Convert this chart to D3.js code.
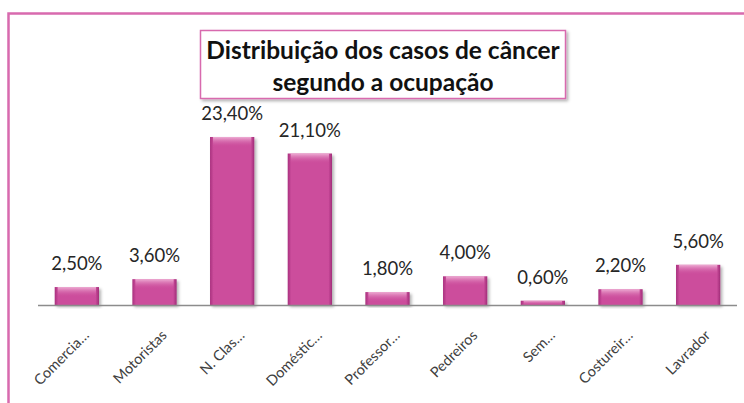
<!DOCTYPE html>
<html><head><meta charset="utf-8">
<script src="https://cdn.jsdelivr.net/npm/d3@7"></script>
<style>body{margin:0;background:#fff}svg{display:block}</style>
</head><body>
<svg id="c" width="744" height="403"></svg>
<script>
const categories = ["Comercia…","Motoristas","N. Clas…","Doméstic…","Professor…","Pedreiros","Sem…","Costureir…","Lavrador"];
const values = [2.5,3.6,23.4,21.1,1.8,4.0,0.6,2.2,5.6];
const valueLabels = ["2,50%","3,60%","23,40%","21,10%","1,80%","4,00%","0,60%","2,20%","5,60%"];
const titleLines = ["Distribuição dos casos de câncer","segundo a ocupação"];

const svg = d3.select("#c");
const defs = svg.append("defs");
const g1 = defs.append("linearGradient").attr("id","hg").attr("x1",0).attr("x2",1).attr("y1",0).attr("y2",0);
g1.append("stop").attr("offset","0").attr("stop-color","#a8307e");
g1.append("stop").attr("offset","0.08").attr("stop-color","#cc4d9c");
g1.append("stop").attr("offset","0.92").attr("stop-color","#cc4d9c");
g1.append("stop").attr("offset","1").attr("stop-color","#a02c78");
const g2 = defs.append("linearGradient").attr("id","tg").attr("x1",0).attr("x2",0).attr("y1",0).attr("y2",1);
g2.append("stop").attr("offset","0").attr("stop-color","#f2b8da").attr("stop-opacity",0.9);
g2.append("stop").attr("offset","1").attr("stop-color","#cc4d9c").attr("stop-opacity",0);
const sh = defs.append("filter").attr("id","sh").attr("x","-10%").attr("y","-10%").attr("width","130%").attr("height","130%");
sh.append("feDropShadow").attr("dx",2).attr("dy",2).attr("stdDeviation",1.5).attr("flood-color","#000").attr("flood-opacity",0.3);

// outer border
svg.append("rect").attr("x",8.5).attr("y",13.5).attr("width",760).attr("height",420)
  .attr("fill","none").attr("stroke","#d86aae").attr("stroke-width",2.5);

const x = d3.scaleBand().domain(categories).range([38,737]).paddingInner(0.43).paddingOuter(0.215);
const y = d3.scaleLinear().domain([0,25]).range([305,125.5]);

const bars = svg.append("g").selectAll("g").data(values).join("g");
bars.append("rect")
  .attr("x",(d,i)=>x(categories[i])).attr("y",d=>y(d))
  .attr("width",x.bandwidth()).attr("height",d=>y(0)-y(d))
  .attr("fill","url(#hg)").attr("filter","url(#sh)");
bars.append("rect")
  .attr("x",(d,i)=>x(categories[i])+3).attr("y",d=>y(d))
  .attr("width",x.bandwidth()-6).attr("height",d=>Math.min(10,y(0)-y(d)))
  .attr("fill","url(#tg)");

// axis line
svg.append("line").attr("x1",38).attr("x2",737).attr("y1",305.5).attr("y2",305.5)
  .attr("stroke","#8c8c8c").attr("stroke-width",1.5);

// value labels
svg.append("g").selectAll("text").data(values).join("text")
  .attr("x",(d,i)=>x(categories[i])+x.bandwidth()/2)
  .attr("y",d=>y(d)-17)
  .attr("text-anchor","middle")
  .attr("font-family","Lato, 'Open Sans', sans-serif").attr("font-size",18.5)
  .attr("fill","#262626")
  .text((d,i)=>valueLabels[i]);

// category labels
svg.append("g").selectAll("text").data(categories).join("text")
  .attr("transform",d=>`translate(${x(d)+x.bandwidth()/2+6},${329}) rotate(-45)`)
  .attr("text-anchor","end").attr("dy","0.7em")
  .attr("font-family","Lato, 'Open Sans', sans-serif").attr("font-size",14.5)
  .attr("fill","#404040")
  .text(d=>d);

// title box
svg.append("rect").attr("x",200.5).attr("y",30.5).attr("width",365).attr("height",68)
  .attr("fill","#fff").attr("stroke","#d86aae").attr("stroke-width",1.5).attr("filter","url(#sh)");
svg.append("g").selectAll("text").data(titleLines).join("text")
  .attr("x",383).attr("y",(d,i)=>59+i*32)
  .attr("text-anchor","middle")
  .attr("font-family","Lato, 'Open Sans', sans-serif").attr("font-weight","bold").attr("font-size",24.5)
  .attr("fill","#111")
  .text(d=>d);
</script>
</body></html>
